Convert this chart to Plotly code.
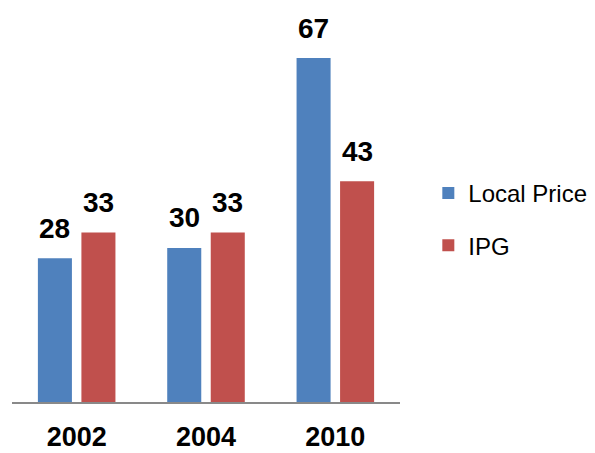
import plotly.graph_objects as go

# data
years = ["2002", "2004", "2010"]
local_price = [28, 30, 67]
ipg = [33, 33, 43]

BLUE = "#4F81BD"
RED = "#C0504D"
FONT = "Liberation Sans, Arial, sans-serif"

fig = go.Figure()
fig.add_trace(go.Bar(x=years, y=local_price, name="Local Price",
                     marker=dict(color=BLUE, line=dict(width=0)), legendgroup="a"))
fig.add_trace(go.Bar(x=years, y=ipg, name="IPG",
                     marker=dict(color=RED, line=dict(width=0)), legendgroup="b"))

# value labels above bars (offset like the Excel data labels)
for vals, off in [(local_price, -0.168), (ipg, 0.168)]:
    for i, v in enumerate(vals):
        fig.add_annotation(x=i + off, y=v, text=f"<b>{v}</b>", showarrow=False,
                           yanchor="middle", yshift=30,
                           font=dict(family=FONT, size=28, color="black"))

# page body has an 8px margin, so the figure is a bit smaller than the window
fig.update_layout(
    width=587, height=445,
    margin=dict(l=4, r=195, t=2, b=51, autoexpand=False),
    paper_bgcolor="white", plot_bgcolor="white",
    barmode="group", bargap=0.327, bargroupgap=0.218,
    showlegend=True,
    legend=dict(x=1.073, y=0.466, xanchor="left", yanchor="middle",
                traceorder="grouped", tracegroupgap=18,
                font=dict(family=FONT, size=24, color="black")),
)
fig.update_xaxes(showline=True, linecolor="#898989", linewidth=1.5,
                 showgrid=False, ticks="", ticklabelstandoff=10, automargin=False,
                 tickfont=dict(family=FONT, size=27, color="black"),
                 tickvals=years, ticktext=[f"<b>{y}</b>" for y in years])
fig.update_yaxes(visible=False, range=[0, 76.35])

fig.write_html("out.html")
